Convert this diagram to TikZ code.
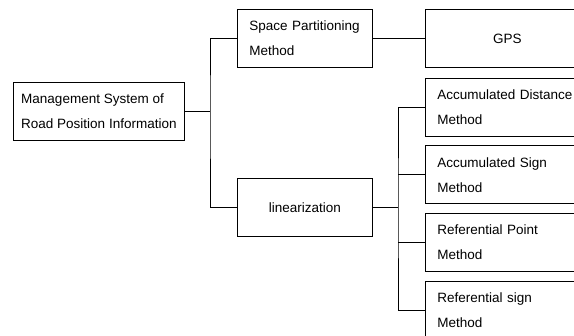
\documentclass[tikz,border=0pt]{standalone}
\usepackage{fontspec}
\setsansfont{Liberation Sans}
\usetikzlibrary{positioning}

\tikzset{
  box/.style={draw, line width=0.8pt, rectangle, inner xsep=12pt, inner ysep=0pt,
              minimum height=58pt, align=left},
  leftbox/.style={box, text width=111pt},
  rightbox/.style={box, text width=140pt},
  wire/.style={line width=0.8pt}
}

\begin{document}
\begin{tikzpicture}[x=1pt, y=-1pt, font=\sffamily\fontsize{13.5}{25}\selectfont]
\useasboundingbox (0,0) rectangle (574,336);
\node [box, inner xsep=6pt, minimum width=171pt, anchor=west] (root) at (13,111)
      {Management System of\\Road Position Information};
\node [leftbox, anchor=west] (space) at (237,38.5) {Space Partitioning\\Method};
\node [leftbox, align=center, anchor=west] (lin) at (237,207.5) {linearization};
\node [rightbox, align=center, anchor=west] (gps) at (425,38.5) {GPS};
\node [rightbox, anchor=west] (accdist) at (425,107) {Accumulated Distance\\Method};
\node [rightbox, below=9pt of accdist] (accsign) {Accumulated Sign\\Method};
\node [rightbox, below=9pt of accsign] (refpoint) {Referential Point\\Method};
\node [rightbox, below=9pt of refpoint] (refsign) {Referential sign\\Method};
\coordinate (j1) at (210,111);
\coordinate (j2) at (398,207.5);
\draw [wire] (root.east) -- (j1);
\draw [wire] (space.west) -| (j1) |- (lin.west);
\draw [wire] (space.east) -- (gps.west);
\draw [wire] (lin.east) -- (j2);
\draw [wire] (accdist.west) -| (j2) |- (refsign.west);
\draw [wire] (accsign.west) -- (accsign.west -| j2);
\draw [wire] (refpoint.west) -- (refpoint.west -| j2);
\end{tikzpicture}
\end{document}
